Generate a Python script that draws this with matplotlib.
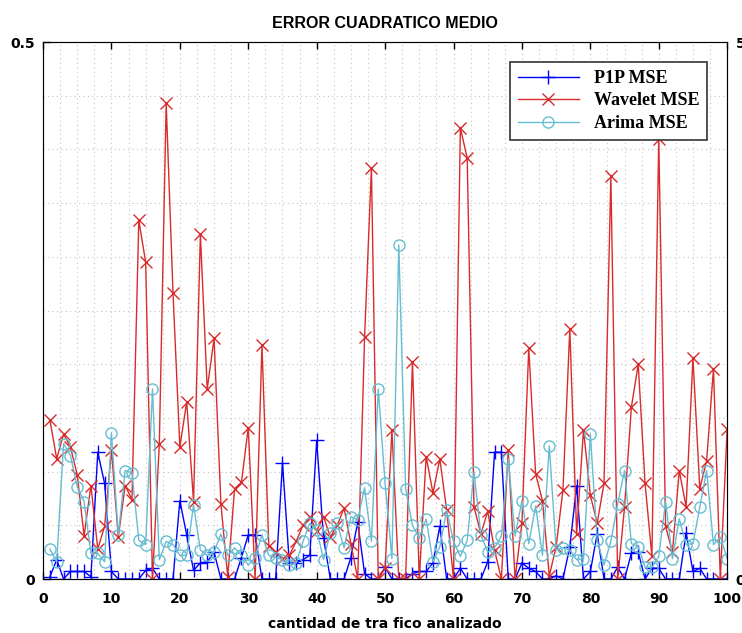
import numpy as np
import matplotlib
matplotlib.use("Agg")
import matplotlib.pyplot as plt
from matplotlib.ticker import MultipleLocator

# samples 1..100
x = np.arange(1, 101)

p1p_mse = [
    0.002, 0.018, 0.000, 0.007, 0.007, 0.007, 0.002, 0.118, 0.089, 0.007,
    0.000, 0.000, 0.000, 0.000, 0.008, 0.010, 0.000, 0.000, 0.000, 0.073,
    0.041, 0.008, 0.015, 0.016, 0.025, 0.000, 0.000, 0.000, 0.020, 0.041,
    0.041, 0.000, 0.000, 0.000, 0.108, 0.015, 0.015, 0.018, 0.022, 0.129,
    0.038, 0.000, 0.000, 0.000, 0.020, 0.053, 0.005, 0.000, 0.000, 0.011,
    0.000, 0.000, 0.000, 0.005, 0.007, 0.007, 0.015, 0.049, 0.000, 0.000,
    0.010, 0.000, 0.000, 0.000, 0.016, 0.118, 0.118, 0.000, 0.000, 0.015,
    0.010, 0.007, 0.000, 0.000, 0.003, 0.000, 0.030, 0.087, 0.000, 0.007,
    0.042, 0.000, 0.000, 0.011, 0.000, 0.024, 0.025, 0.000, 0.010, 0.010,
    0.000, 0.000, 0.000, 0.043, 0.007, 0.010, 0.000, 0.000, 0.000, 0.000,
]

wavelet_mse = [
    0.148, 0.112, 0.135, 0.123, 0.097, 0.040, 0.087, 0.028, 0.049, 0.120,
    0.039, 0.087, 0.074, 0.334, 0.295, 0.000, 0.126, 0.443, 0.266, 0.123,
    0.165, 0.072, 0.321, 0.177, 0.224, 0.070, 0.002, 0.084, 0.090, 0.141,
    0.000, 0.218, 0.031, 0.025, 0.019, 0.022, 0.035, 0.050, 0.058, 0.045,
    0.058, 0.039, 0.050, 0.066, 0.033, 0.000, 0.225, 0.383, 0.000, 0.010,
    0.139, 0.000, 0.000, 0.202, 0.000, 0.114, 0.080, 0.112, 0.064, 0.000,
    0.420, 0.392, 0.067, 0.042, 0.063, 0.027, 0.000, 0.120, 0.000, 0.052,
    0.215, 0.098, 0.073, 0.003, 0.030, 0.083, 0.233, 0.042, 0.139, 0.078,
    0.052, 0.089, 0.375, 0.000, 0.067, 0.160, 0.200, 0.089, 0.021, 0.410,
    0.049, 0.025, 0.101, 0.067, 0.206, 0.084, 0.110, 0.196, 0.000, 0.140,
]

arima_mse = [
    0.028, 0.016, 0.126, 0.115, 0.086, 0.072, 0.024, 0.024, 0.016, 0.136,
    0.041, 0.101, 0.099, 0.036, 0.032, 0.177, 0.018, 0.035, 0.032, 0.022,
    0.022, 0.069, 0.027, 0.022, 0.025, 0.042, 0.022, 0.029, 0.022, 0.013,
    0.020, 0.041, 0.022, 0.020, 0.018, 0.013, 0.015, 0.035, 0.052, 0.046,
    0.018, 0.043, 0.052, 0.029, 0.058, 0.055, 0.085, 0.035, 0.177, 0.089,
    0.019, 0.311, 0.084, 0.050, 0.038, 0.056, 0.016, 0.030, 0.064, 0.035,
    0.021, 0.036, 0.100, 0.041, 0.025, 0.029, 0.040, 0.112, 0.040, 0.073,
    0.033, 0.068, 0.022, 0.124, 0.027, 0.029, 0.027, 0.018, 0.019, 0.135,
    0.036, 0.013, 0.035, 0.070, 0.101, 0.033, 0.030, 0.011, 0.011, 0.021,
    0.072, 0.019, 0.056, 0.032, 0.033, 0.067, 0.101, 0.032, 0.039, 0.019,
]

fig = plt.figure(figsize=(7.42, 6.33), dpi=100)
ax = fig.add_axes([0.058, 0.0853, 0.922, 0.8483])

ax.plot(x, p1p_mse, color='#0000ff', lw=1.0, marker='+', ms=10, mew=1.0, label='P1P MSE')
ax.plot(x, wavelet_mse, color='#d92b2b', lw=1.0, marker='x', ms=8, mew=1.0, label='Wavelet MSE')
ax.plot(x, arima_mse, color='#66bdd2', lw=1.0, marker='o', ms=8, mew=1.0, mfc='none', label='Arima MSE')

ax.set_xlim(0, 100)
ax.set_ylim(0, 0.5)
ax.set_xticks(np.arange(0, 101, 10))
ax.set_yticks([0, 0.5])
ax.set_yticklabels(['0', '0.5'])
ax.xaxis.set_minor_locator(MultipleLocator(2.5))
ax.yaxis.set_minor_locator(MultipleLocator(0.05))
ax.grid(which='both', ls=(0, (1, 3)), lw=0.8, color='#c4c4c4')
ax.tick_params(which='major', direction='in', top=True, length=5, width=1,
               labelsize=10)
ax.tick_params(axis='x', pad=9)
ax.tick_params(axis='y', pad=6)
ax.tick_params(which='minor', length=0)
for lab in ax.get_xticklabels() + ax.get_yticklabels():
    lab.set_fontweight('bold')
for sp in ax.spines.values():
    sp.set_color('#555555')

# right axis (0..5)
ax2 = ax.twinx()
ax2.set_ylim(0, 5)
ax2.set_yticks([0, 5])
ax2.tick_params(direction='in', length=0, labelsize=10, pad=6)
for lab in ax2.get_yticklabels():
    lab.set_fontweight('bold')

ax.set_title('ERROR CUADRATICO MEDIO', fontsize=11.5, fontweight='bold',
             family='Liberation Sans', pad=10)
ax.set_xlabel('cantidad de tra fico analizado', fontsize=10, fontweight='bold', labelpad=8)

leg = ax.legend(loc='upper right', bbox_to_anchor=(0.971, 0.963), borderaxespad=0,
                fancybox=False, edgecolor='#333333', framealpha=1, handlelength=3.4,
                prop={'family': 'Liberation Serif', 'weight': 'bold', 'size': 13},
                borderpad=0.45, labelspacing=0.3)
leg.get_frame().set_linewidth(1.2)

fig.savefig('out.png', dpi=100)
